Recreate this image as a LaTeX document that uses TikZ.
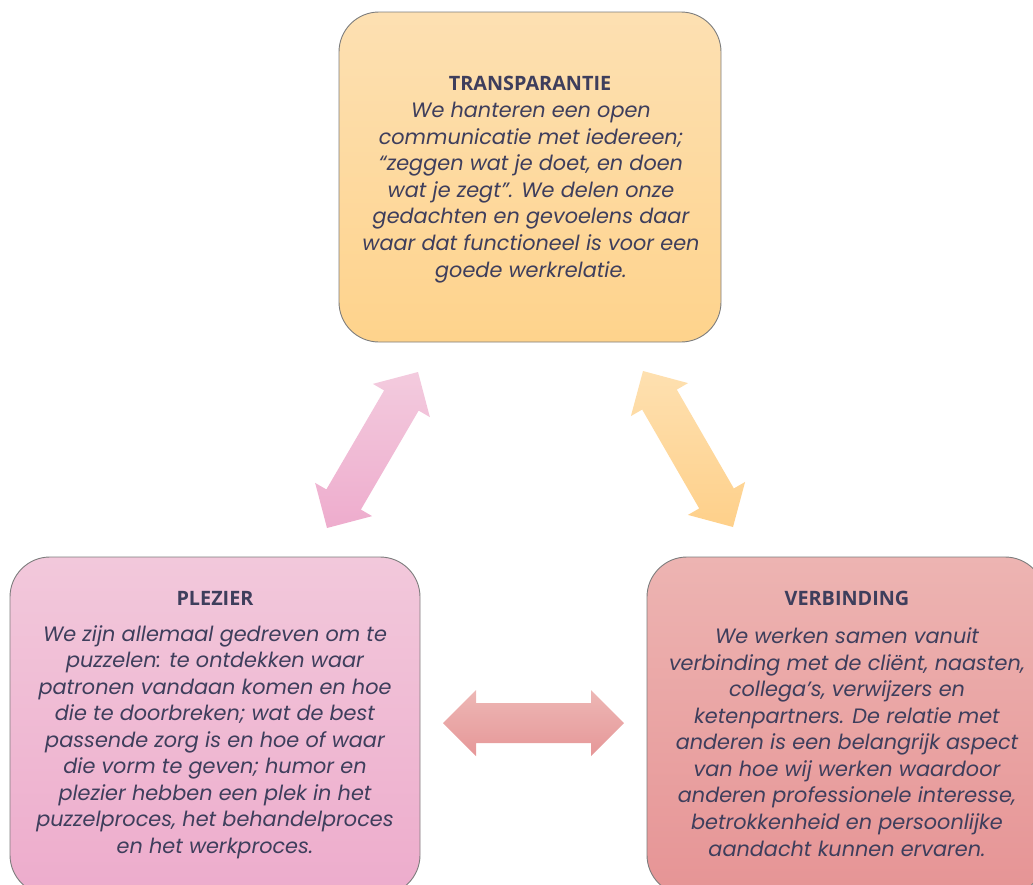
\documentclass[tikz,border=0pt]{standalone}
\usepackage{fontspec}
\setmainfont{Poppins}
\newfontfamily\titlefont{Open Sans}
\usetikzlibrary{calc}
\definecolor{txt}{RGB}{62,62,92}
\definecolor{boxline}{RGB}{125,125,125}
\definecolor{orA}{RGB}{253,224,178}
\definecolor{orB}{RGB}{254,211,140}
\definecolor{piA}{RGB}{242,200,219}
\definecolor{piB}{RGB}{237,172,204}
\definecolor{reA}{RGB}{237,180,178}
\definecolor{reB}{RGB}{230,148,149}
\definecolor{apiA}{RGB}{243,203,222}
\definecolor{apiB}{RGB}{238,172,205}
\definecolor{aorA}{RGB}{254,224,176}
\definecolor{aorB}{RGB}{254,208,138}
\definecolor{areA}{RGB}{237,183,181}
\definecolor{areB}{RGB}{230,151,152}
\tikzset{
  box/.style={draw=boxline, line width=0.9pt, rounded corners=40pt},
  body/.style={align=center, text=txt, inner sep=0pt,
    font=\fontsize{20.8}{26.55}\selectfont\itshape},
  ttl/.style={text=txt, inner sep=0pt,
    font=\titlefont\bfseries\fontsize{19.8}{24}\selectfont}
}
\newcommand\dblarrow[3]{%
  \shade[#3] (#1)
    -- ($(#1)!33pt!(#2)!33pt!90:(#2)$)
    -- ($(#1)!33pt!(#2)!20pt!90:(#2)$)
    -- ($(#2)!33pt!(#1)!20pt!-90:(#1)$)
    -- ($(#2)!33pt!(#1)!33pt!-90:(#1)$)
    -- (#2)
    -- ($(#2)!33pt!(#1)!33pt!90:(#1)$)
    -- ($(#2)!33pt!(#1)!20pt!90:(#1)$)
    -- ($(#1)!33pt!(#2)!20pt!-90:(#2)$)
    -- ($(#1)!33pt!(#2)!33pt!-90:(#2)$)
    -- cycle;}
\begin{document}
\begin{tikzpicture}[x=1pt,y=-1pt]
\useasboundingbox (0,0) rectangle (1033,884);
\clip (0,0) rectangle (1033,884);
% boxes
\shade[box, top color=orA, bottom color=orB] (339,12) rectangle (721,342);
\shade[box, top color=piA, bottom color=piB] (10,557) rectangle (420,895);
\shade[box, top color=reA, bottom color=reB] (647,557) rectangle (1045,895);
% titles
\node[ttl] (t1) at (530,83) {TRANSPARANTIE};
\node[ttl] (t2) at (215,598) {PLEZIER};
\node[ttl] (t3) at (847,598) {VERBINDING};
% texts
\node[body] (transp) at (531,192.5) {We hanteren een open\\
communicatie met iedereen;\\
“zeggen wat je doet, en doen\\
wat je zegt”. We delen onze\\
gedachten en gevoelens daar\\
waar dat functioneel is voor een\\
goede werkrelatie.};
\node[body] (plez) at (215,742) {We zijn allemaal gedreven om te\\
puzzelen: te ontdekken waar\\
patronen vandaan komen en hoe\\
die te doorbreken; wat de best\\
passende zorg is en hoe of waar\\
die vorm te geven; humor en\\
plezier hebben een plek in het\\
puzzelproces, het behandelproces\\
en het werkproces.};
\node[body] (verb) at (847,742) {We werken samen vanuit\\
verbinding met de cliënt, naasten,\\
collega’s, verwijzers en\\
ketenpartners. De relatie met\\
anderen is een belangrijk aspect\\
van hoe wij werken waardoor\\
anderen professionele interesse,\\
betrokkenheid en persoonlijke\\
aandacht kunnen ervaren.};
% arrows
\coordinate (pa) at (327,528); \coordinate (pb) at (418,372);
\coordinate (oa) at (643,371); \coordinate (ob) at (733,527);
\coordinate (ha) at (443,723); \coordinate (hb) at (624,723);
\dblarrow{pa}{pb}{top color=apiA, bottom color=apiB}
\dblarrow{oa}{ob}{top color=aorA, bottom color=aorB}
\dblarrow{ha}{hb}{top color=areA, bottom color=areB}
\end{tikzpicture}
\end{document}
